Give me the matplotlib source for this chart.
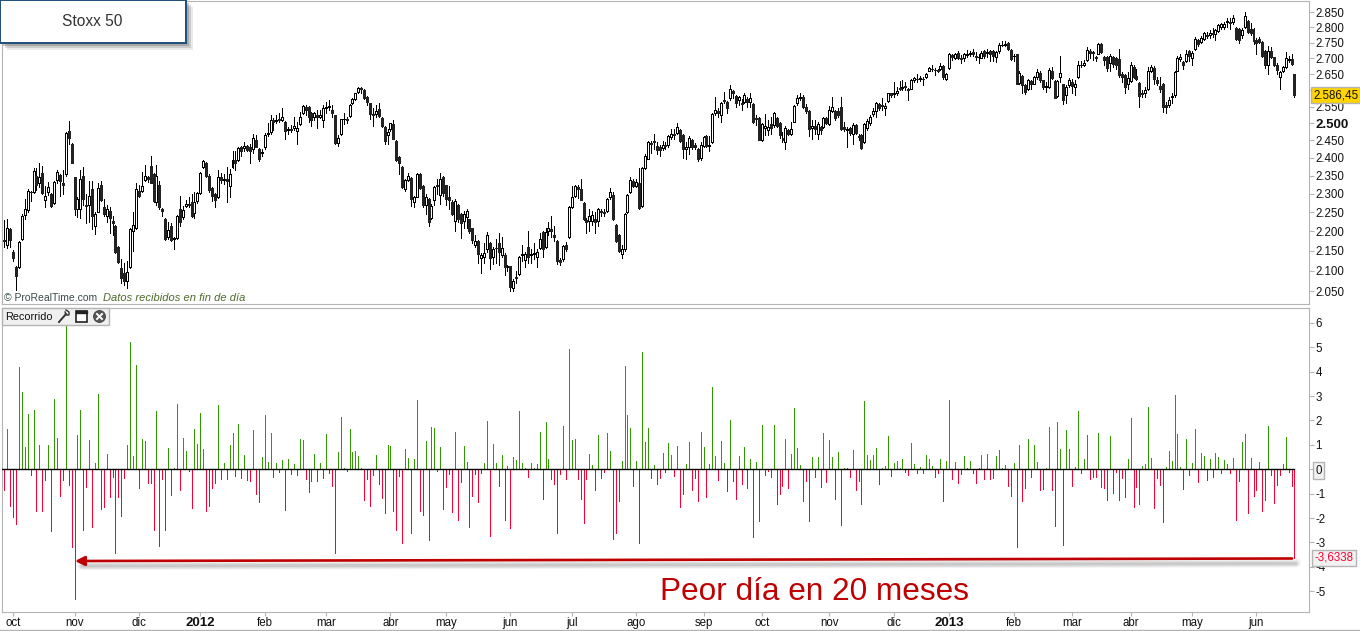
import matplotlib
matplotlib.use('Agg')
import numpy as np
import matplotlib.pyplot as plt
from matplotlib.patches import Rectangle, Circle

plt.rcParams['font.family'] = ['Liberation Sans', 'DejaVu Sans']

# Precios diarios
apertura = [
    2178,2165,2205,2147,2110,2110,2180,2243,2256,2305,2305,2350,2330,2357,2283,2305,2300,2275,2337,2352,
    2329,2355,2478,2440,2345,2258,2258,2350,2270,2270,2312,2215,2252,2325,2265,2240,2254,2226,2215,2160,
    2107,2095,2075,2110,2200,2208,2308,2308,2338,2345,2377,2355,2278,2325,2260,2232,2185,2215,2180,2183,
    2260,2237,2268,2272,2278,2248,2280,2303,2375,2385,2350,2315,2300,2290,2345,2338,2340,2322,2375,2395,
    2393,2430,2428,2435,2430,2425,2450,2425,2415,2430,2470,2475,2510,2508,2512,2510,2505,2480,2482,2486,
    2478,2498,2530,2550,2550,2530,2520,2525,2520,2510,2545,2550,2540,2525,2442,2468,2512,2512,2522,2560,
    2572,2593,2606,2600,2580,2560,2527,2527,2542,2517,2490,2467,2483,2498,2448,2402,2375,2313,2338,2343,
    2277,2292,2355,2322,2270,2285,2235,2282,2325,2298,2345,2323,2291,2278,2228,2270,2245,2228,2238,2232,
    2208,2165,2175,2133,2135,2155,2170,2135,2158,2170,2140,2140,2110,2112,2058,2085,2092,2140,2127,2160,
    2140,2142,2135,2158,2198,2160,2202,2205,2190,2175,2128,2130,2164,2185,2265,2295,2318,2312,2275,2230,
    2228,2228,2232,2228,2255,2252,2255,2290,2298,2218,2190,2142,2155,2250,2305,2335,2322,2330,2267,2370,
    2398,2442,2448,2435,2430,2428,2438,2437,2460,2468,2472,2480,2465,2425,2430,2450,2438,2425,2400,2435,
    2462,2433,2445,2530,2538,2525,2570,2565,2575,2597,2583,2570,2562,2565,2572,2565,2557,2515,2515,2450,
    2487,2480,2497,2494,2515,2500,2458,2445,2480,2468,2505,2560,2575,2580,2550,2538,2485,2492,2470,2488,
    2488,2516,2497,2538,2537,2538,2550,2490,2480,2485,2470,2495,2463,2465,2445,2487,2500,2527,2538,2557,
    2555,2545,2568,2590,2588,2590,2608,2606,2613,2603,2605,2630,2636,2635,2636,2640,2660,2667,2664,2663,
    2665,2675,2635,2668,2710,2700,2716,2700,2700,2710,2712,2720,2708,2703,2702,2722,2716,2722,2722,2705,
    2722,2743,2744,2750,2727,2706,2712,2622,2645,2615,2605,2628,2620,2640,2652,2630,2610,2610,2660,2628,
    2583,2640,2618,2585,2615,2625,2610,2640,2680,2680,2695,2722,2720,2705,2715,2745,2703,2703,2685,2705,
    2700,2698,2650,2647,2620,2628,2672,2645,2622,2590,2590,2602,2660,2670,2632,2612,2618,2554,2556,2580,
    2585,2660,2698,2688,2692,2722,2700,2730,2758,2752,2762,2775,2775,2782,2780,2787,2800,2802,2818,2818,
    2818,2798,2795,2775,2800,2820,2795,2795,2760,2762,2753,2722,2680,2722,2703,2680,2642,2660,2672,2695,2698,2650]
cierre = [
    2175,2210,2178,2133,2087,2172,2240,2258,2309,2304,2364,2325,2345,2303,2293,2318,2267,2332,2360,2335,
    2323,2472,2458,2385,2260,2285,2342,2285,2267,2295,2240,2246,2316,2283,2247,2260,2235,2222,2147,2122,
    2082,2075,2096,2205,2217,2312,2293,2322,2350,2340,2330,2280,2350,2265,2255,2180,2203,2178,2182,2240,
    2225,2257,2272,2270,2240,2278,2303,2358,2390,2350,2310,2295,2283,2345,2338,2342,2335,2355,2395,2385,
    2428,2420,2435,2423,2418,2458,2432,2397,2417,2465,2472,2510,2505,2510,2510,2518,2478,2483,2480,2492,
    2487,2518,2552,2540,2520,2510,2530,2520,2525,2545,2550,2552,2530,2442,2458,2512,2513,2510,2556,2572,
    2590,2606,2603,2577,2565,2527,2525,2538,2523,2493,2448,2473,2500,2455,2393,2386,2318,2337,2348,2285,
    2290,2355,2315,2270,2290,2225,2268,2318,2322,2342,2302,2285,2282,2245,2280,2232,2222,2247,2253,2200,
    2177,2175,2142,2140,2145,2190,2132,2155,2157,2147,2158,2110,2112,2060,2075,2082,2135,2142,2141,2135,
    2142,2144,2148,2180,2155,2198,2208,2202,2186,2125,2122,2162,2155,2265,2292,2320,2312,2284,2232,2224,
    2240,2244,2225,2258,2250,2249,2285,2305,2232,2175,2150,2155,2245,2298,2338,2320,2332,2262,2372,2405,
    2445,2440,2445,2423,2422,2438,2435,2462,2470,2466,2490,2449,2425,2430,2458,2432,2430,2398,2437,2460,
    2435,2438,2528,2540,2530,2560,2566,2545,2605,2590,2560,2578,2558,2585,2565,2577,2505,2512,2452,2497,
    2492,2490,2487,2530,2492,2465,2450,2485,2470,2482,2552,2575,2580,2548,2538,2482,2492,2484,2498,2480,
    2516,2500,2540,2550,2517,2524,2482,2482,2482,2472,2495,2472,2460,2428,2497,2508,2520,2538,2560,2545,
    2552,2553,2590,2586,2590,2598,2604,2610,2610,2600,2630,2637,2634,2637,2633,2650,2670,2665,2662,2661,
    2675,2640,2650,2715,2703,2712,2700,2698,2712,2712,2718,2712,2705,2704,2718,2708,2720,2714,2708,2720,
    2742,2744,2746,2728,2697,2708,2620,2652,2615,2595,2630,2620,2642,2655,2630,2610,2612,2662,2638,2577,
    2628,2652,2570,2610,2632,2612,2620,2680,2678,2686,2725,2718,2716,2702,2745,2720,2695,2668,2708,2682,
    2678,2648,2642,2610,2638,2680,2640,2635,2582,2587,2600,2660,2672,2635,2622,2603,2548,2549,2570,2582,
    2655,2702,2705,2680,2715,2708,2718,2762,2745,2765,2782,2772,2782,2778,2790,2808,2810,2812,2820,2814,
    2832,2762,2760,2793,2838,2785,2782,2755,2750,2752,2708,2680,2722,2705,2680,2662,2657,2672,2700,2698,2682,2586.45]
maximos = [
    2230,2233,2208,2153,2112,2175,2245,2285,2312,2308,2372,2370,2385,2377,2320,2332,2303,2335,2365,2355,
    2365,2475,2507,2441,2347,2292,2365,2373,2300,2335,2335,2250,2330,2335,2285,2270,2265,2240,2216,2162,
    2130,2120,2125,2208,2250,2330,2325,2360,2380,2350,2405,2358,2380,2335,2262,2235,2225,2222,2185,2242,
    2295,2268,2282,2292,2300,2305,2306,2360,2395,2388,2355,2318,2302,2365,2358,2355,2375,2368,2420,2420,
    2432,2435,2445,2438,2440,2470,2465,2428,2425,2472,2500,2525,2515,2525,2530,2545,2508,2490,2495,2520,
    2505,2535,2555,2556,2553,2535,2535,2540,2540,2555,2565,2570,2555,2526,2465,2514,2530,2518,2558,2575,
    2592,2610,2610,2602,2582,2562,2545,2555,2562,2520,2492,2483,2502,2510,2450,2405,2378,2340,2358,2345,
    2295,2358,2358,2325,2300,2288,2272,2322,2340,2358,2348,2325,2320,2282,2285,2272,2248,2255,2258,2233,
    2210,2190,2178,2145,2170,2198,2172,2160,2180,2195,2185,2145,2115,2113,2080,2100,2138,2165,2148,2200,
    2155,2170,2155,2195,2200,2210,2225,2240,2215,2178,2131,2165,2172,2268,2320,2325,2325,2340,2278,2235,
    2260,2255,2250,2262,2260,2260,2288,2315,2305,2220,2192,2165,2248,2300,2345,2340,2340,2370,2375,2412,
    2448,2448,2470,2445,2438,2448,2445,2465,2482,2482,2500,2482,2470,2445,2462,2455,2442,2428,2445,2464,
    2465,2462,2532,2580,2545,2565,2595,2568,2615,2600,2586,2582,2572,2590,2578,2590,2560,2525,2520,2500,
    2528,2510,2518,2535,2518,2505,2475,2492,2483,2505,2555,2585,2592,2585,2558,2540,2510,2510,2505,2492,
    2520,2520,2552,2578,2540,2545,2578,2505,2490,2488,2500,2498,2470,2468,2500,2512,2525,2545,2565,2562,
    2575,2560,2592,2592,2625,2610,2628,2630,2625,2607,2635,2642,2650,2645,2640,2653,2672,2680,2668,2667,
    2685,2680,2654,2718,2713,2718,2722,2710,2716,2725,2722,2730,2720,2712,2722,2726,2728,2726,2726,2724,
    2748,2755,2755,2752,2729,2712,2714,2660,2648,2618,2635,2632,2645,2665,2660,2632,2625,2668,2672,2630,
    2632,2708,2620,2615,2638,2635,2630,2690,2690,2695,2735,2730,2722,2708,2748,2748,2708,2706,2712,2708,
    2705,2730,2655,2650,2655,2688,2678,2665,2625,2600,2610,2672,2680,2675,2640,2640,2622,2565,2580,2590,
    2660,2706,2712,2692,2725,2725,2722,2770,2762,2772,2785,2785,2790,2798,2795,2812,2815,2818,2830,2833,
    2842,2800,2798,2797,2850,2825,2815,2798,2765,2768,2755,2725,2738,2735,2705,2685,2660,2675,2720,2708,2712,2651]
minimos = [
    2160,2158,2160,2125,2052,2108,2178,2232,2252,2280,2303,2310,2318,2300,2265,2296,2264,2272,2330,2295,
    2300,2350,2440,2384,2243,2238,2235,2270,2222,2225,2205,2192,2250,2280,2240,2225,2195,2190,2145,2120,
    2070,2065,2058,2108,2150,2205,2290,2305,2335,2332,2330,2278,2270,2260,2240,2178,2180,2175,2155,2180,
    2215,2232,2265,2265,2238,2235,2275,2300,2372,2345,2305,2280,2265,2288,2330,2328,2278,2292,2372,2365,
    2390,2405,2420,2420,2385,2415,2430,2392,2405,2425,2462,2468,2480,2500,2505,2508,2455,2470,2474,2480,
    2440,2495,2528,2525,2505,2492,2510,2485,2515,2490,2530,2540,2520,2440,2435,2466,2498,2500,2518,2558,
    2570,2590,2590,2572,2555,2513,2492,2518,2520,2490,2440,2440,2478,2453,2390,2355,2316,2308,2335,2267,
    2265,2290,2313,2265,2245,2215,2232,2270,2300,2272,2295,2270,2260,2243,2200,2225,2182,2210,2210,2195,
    2170,2160,2120,2095,2120,2148,2105,2118,2120,2115,2135,2090,2100,2050,2050,2070,2090,2125,2110,2120,
    2120,2130,2110,2155,2135,2158,2190,2185,2175,2118,2115,2125,2150,2183,2262,2292,2288,2282,2230,2195,
    2200,2218,2195,2215,2240,2240,2252,2285,2230,2172,2148,2132,2150,2248,2303,2318,2318,2260,2265,2368,
    2396,2415,2425,2412,2405,2422,2425,2432,2455,2455,2468,2445,2400,2397,2410,2425,2425,2392,2393,2432,
    2432,2418,2442,2525,2520,2505,2560,2530,2570,2575,2550,2555,2540,2560,2548,2550,2500,2495,2450,2447,
    2465,2465,2470,2490,2490,2458,2445,2425,2465,2465,2503,2555,2570,2545,2530,2462,2455,2470,2455,2470,
    2485,2498,2494,2535,2510,2520,2480,2478,2430,2465,2440,2468,2450,2425,2443,2480,2495,2522,2520,2540,
    2540,2525,2565,2580,2580,2585,2600,2600,2600,2570,2603,2625,2625,2628,2615,2638,2658,2660,2648,2655,
    2662,2635,2632,2666,2695,2696,2696,2685,2692,2703,2708,2708,2695,2685,2700,2702,2705,2690,2692,2688,
    2718,2738,2738,2726,2695,2690,2618,2618,2590,2588,2600,2605,2618,2635,2625,2605,2595,2608,2636,2575,
    2580,2625,2558,2560,2610,2590,2585,2638,2672,2675,2692,2700,2695,2690,2712,2718,2680,2660,2660,2672,
    2665,2640,2625,2590,2605,2625,2637,2630,2548,2578,2580,2600,2655,2620,2615,2595,2535,2530,2548,2560,
    2580,2658,2690,2665,2688,2690,2680,2725,2738,2748,2758,2765,2765,2770,2760,2784,2795,2796,2802,2795,
    2810,2758,2750,2765,2798,2782,2775,2745,2715,2748,2705,2670,2650,2700,2675,2650,2605,2655,2670,2688,2678,2578]

# Recorrido diario en %
recorrido = [
    -0.86,1.65,-1.5,-1.97,-2.26,4.2,3.17,0.9,2.26,-0.25,2.42,-1.73,1.0,-1.73,-0.45,1.0,-2.55,2.88,1.3,-1.1,
    -0.45,5.88,-0.65,-3.2,-5.3,1.4,2.42,-2.47,-0.74,1.2,-2.38,0.25,3.08,-1.64,-1.56,0.62,-1.15,-0.33,-3.45,-1.15,
    -1.93,-0.37,1.0,5.22,0.53,4.27,-0.78,1.23,1.15,-0.58,-0.58,-2.47,2.38,-3.16,-0.41,-2.5,0.86,-1.07,0.04,2.67,
    -0.86,1.27,0.74,-0.08,-1.6,1.64,1.03,2.3,0.82,-1.73,-1.52,-0.78,-0.58,2.63,-0.41,0.25,-0.41,1.0,1.48,-0.29,
    1.85,-0.37,0.58,-0.45,-0.49,1.6,-1.03,-1.36,0.49,2.22,0.29,1.48,-0.33,0.25,-0.12,0.37,-1.68,0.41,-0.2,0.2,
    -0.25,1.23,1.2,-0.41,-0.95,-0.49,0.62,-0.49,0.25,-0.37,1.44,-0.16,-0.7,-3.45,0.7,
    2.15,0.05,-0.07,1.66,0.71,0.75,0.55,0.05,-1.26,-0.4,-1.5,-0.23,0.59,-0.6,-1.18,-1.79,1.0,0.96,-1.71,-2.49,
    -0.27,-3.03,0.84,0.47,-2.62,0.42,2.85,-1.71,-1.88,1.16,-2.9,1.74,1.7,-0.07,0.92,-1.63,-0.73,-0.19,-1.75,1.53,
    -2.08,-0.52,0.96,0.3,-2.37,-1.1,-0.19,-1.34,-0.15,0.26,1.99,-2.74,1.04,0.26,-0.68,0.59,-2.08,0.14,-2.41,0.51,
    0.38,2.4,0.26,0.05,-0.32,0.26,0.05,0.22,1.53,-1.22,1.95,0.42,-0.4,-0.6,-2.62,-0.19,1.78,-0.4,4.95,1.2,
    1.25,-0.4,-1.22,-2.2,-0.4,0.63,0.18,-0.85,1.41,-0.36,-0.11,1.49,0.75,-2.86,-2.62,-1.3,0.34,4.25,2.23,1.7,
    -0.68,0.34,-3.03,4.82,1.12,1.7,-0.36,0.18,-0.6,-0.36,0.67,-0.11,1.08,0.59,-0.27,0.96,
    -1.55,-1.01,0.22,1.12,-0.85,-0.36,-1.3,1.53,0.92,-1.14,0.22,3.38,0.55,-0.44,1.16,0.26,-0.89,2.03,-0.48,-1.22,
    0.55,-0.6,0.92,-0.77,0.42,-2.78,0.3,-2.12,1.82,-0.23,-0.07,-0.32,1.82,-1.42,-1.01,-0.68,1.25,-0.77,0.63,2.52,
    0.88,0.18,-1.3,-0.48,-2.12,0.51,-0.32,0.51,-0.73,1.49,-0.52,1.21,0.51,-1.22,0.71,-2.29,0.05,0.05,-0.32,0.79,
    -0.85,-0.48,-1.42,2.81,0.59,0.38,0.59,0.88,-0.6,0.05,0.14,1.37,-0.27,0.26,0.34,0.05,0.42,-0.11,-0.23,1.08,
    0.22,-0.15,0.1,-0.15,0.59,0.42,0.14,-0.32,-0.15,0.42,-1.3,0.34,2.85,-0.4,0.3,-0.56,-0.19,0.55,0.05,0.34,
    -0.15,-0.56,0.05,0.59,-0.4,0.63,-0.4,-0.36,0.55,0.79,0.05,0.18,-0.68,-1.1,0.26,-3.19,1.0,
    -1.3,-0.77,1.25,-0.32,1.0,0.3,-0.85,-0.81,0.05,1.74,-0.85,-2.33,1.95,0.84,-3.11,1.62,0.84,-0.68,0.1,2.4,
    -0.15,0.42,1.41,-0.4,-0.32,-0.32,1.49,-0.73,-0.77,-1.26,1.37,-0.97,-0.11,-1.26,-0.36,-1.14,0.42,2.11,-1.55,-0.73,
    -1.42,0.14,0.22,2.56,0.47,-1.59,-0.36,-0.64,-2.16,0.1,0.75,0.34,3.05,1.45,0.1,-0.81,1.25,-0.23,0.26,1.66,
    -0.52,0.67,0.55,-0.44,0.42,-0.32,0.67,0.51,-0.15,0.38,0.22,-0.15,0.47,-2.08,-0.48,1.12,1.45,-1.79,0.47,-1.1,
    -0.85,0.3,-1.71,-1.26,1.78,-0.23,-1.38,-0.64,-0.23,0.22,1.33,-0.11,-0.68,-3.6338]

ticks_precio = [2050,2100,2150,2200,2250,2300,2350,2400,2450,2500,2550,2600,2650,2700,2750,2800,2850]
etiquetas_precio = ['2.050','2.100','2.150','2.200','2.250','2.300','2.350','2.400','2.450','2.500',
                    '2.550','','2.650','2.700','2.750','2.800','2.850']
ticks_rec = [-5,-4,-3,-2,-1,0,1,2,3,4,5,6]
etiquetas_rec = ['-5','-4','-3','-2','-1','0','1','2','3','4','5','6']
pos_meses = [3,24,46,67,89,110,132,151,173,194,216,239,259,282,304,323,345,365,385,406,428]
meses = ['oct','nov','dic','2012','feb','mar','abr','may','jun','jul','ago','sep','oct','nov','dic','2013',
         'feb','mar','abr','may','jun']

W, H = 1360, 631
GRIS = '#b4b4b4'
fig = plt.figure(figsize=(W/100, H/100), dpi=100)

def panel(izq, arr, der, aba):
    return fig.add_axes([izq/W, 1-aba/H, (der-izq)/W, (aba-arr)/H])

# Velas
ax1 = panel(2, 1, 1308.5, 304)
x = np.arange(len(cierre))
o = np.array(apertura, dtype=float)
c = np.array(cierre, dtype=float)
ax1.vlines(x, minimos, maximos, color='black', lw=0.68, zorder=1, antialiased=False)
sube = c >= o
ax1.bar(x[sube], c[sube]-o[sube], bottom=o[sube], width=0.68, facecolor='white', edgecolor='black',
        lw=0.68, zorder=2, antialiased=False)
ax1.bar(x[~sube], c[~sube]-o[~sube], bottom=o[~sube], width=0.68, facecolor='#222222', edgecolor='#222222',
        lw=0.68, zorder=2, antialiased=False)
ax1.set_yscale('log')
ax1.set_xlim(-0.79, 445.8)
ax1.set_ylim(2019, 2889)
ax1.set_xticks([])
ax1.yaxis.tick_right()
ax1.set_yticks(ticks_precio)
ax1.set_yticklabels(etiquetas_precio, fontsize=8.3)
ax1.yaxis.set_minor_locator(matplotlib.ticker.NullLocator())
ax1.tick_params(axis='y', length=3.4, color=GRIS, pad=1.5, labelcolor='#111111')
ax1.get_yticklabels()[9].set_fontweight('bold')
ax1.get_yticklabels()[9].set_fontsize(9.5)
for s in ax1.spines.values():
    s.set_color(GRIS)

# Recorrido
ax2 = panel(2, 308, 1308.5, 612)
xr = np.arange(len(recorrido))
r = np.array(recorrido)
ax2.vlines(xr[r >= 0], 0, r[r >= 0], color='#339900', lw=0.68, antialiased=False)
ax2.vlines(xr[r < 0], 0, r[r < 0], color='#ff0033', lw=0.68, antialiased=False)
ax2.plot([xr[0]-0.7, xr[-1]], [0, 0], color='black', lw=1.0, zorder=3)
ax2.set_xlim(-0.79, 445.8)
ax2.set_ylim(-5.85, 6.61)
ax2.yaxis.tick_right()
ax2.set_yticks(ticks_rec)
ax2.set_yticklabels(etiquetas_rec, fontsize=8.3)
ax2.set_xticks(pos_meses)
ax2.set_xticklabels(meses, fontsize=8.3)
ax2.tick_params(axis='both', length=3.4, color=GRIS, pad=1.5, labelcolor='#111111')
ax2.tick_params(axis='x', length=3, pad=0.5)
for lab in ax2.get_xticklabels():
    if lab.get_text() in ('2012', '2013'):
        lab.set_fontweight('bold')
        lab.set_fontsize(9.5)
ax2.get_yticklabels()[5].set_bbox(dict(boxstyle='square,pad=0.2', fc='#f2f2f2', ec=GRIS, lw=1))
for s in ax2.spines.values():
    s.set_color(GRIS)

# Capa en pixeles para las anotaciones
ov = fig.add_axes([0, 0, 1, 1], zorder=10)
ov.set_xlim(0, W)
ov.set_ylim(H, 0)
ov.axis('off')
ov.patch.set_alpha(0)

ov.plot([0, W], [630, 630], color=GRIS, lw=1)

# Caja del titulo
for d, a in [(7, 0.12), (5, 0.2), (3, 0.3)]:
    ov.add_patch(Rectangle((d, d), 186, 43, fc='#555555', ec='none', alpha=a))
ov.add_patch(Rectangle((0, 0), 186, 43, fc='white', ec='#1f4e79', lw=1.4))
ov.text(92, 21, 'Stoxx 50', ha='center', va='center', fontsize=11.2, color='#333333')

ov.text(4, 298, '© ProRealTime.com', ha='left', va='center', fontsize=7.5, color='#3a4a4a')
ov.text(103, 298, 'Datos recibidos en fin de día', ha='left', va='center', fontsize=8,
        style='italic', color='#4f6a2a')

# Barra "Recorrido"
ov.add_patch(Rectangle((2, 308), 107, 17, fc='#f0f0f0', ec=GRIS, lw=1))
ov.text(5, 316.5, 'Recorrido', ha='left', va='center', fontsize=7.8, color='#111111')
ov.plot([59, 66], [322, 314], color='#333333', lw=1.4)
ov.plot([65, 66, 69, 69, 66], [312, 315, 315, 312, 310], color='#333333', lw=1)
ov.add_patch(Rectangle((76, 311), 11, 11, fc='white', ec='#222222', lw=1.2))
ov.add_patch(Rectangle((76, 311), 11, 2, fc='#222222', ec='#222222', lw=1))
ov.add_patch(Circle((99.5, 316.5), 6, fc='#555555', ec='#333333', lw=0.5))
ov.plot([97, 102], [314, 319], color='white', lw=1.4)
ov.plot([97, 102], [319, 314], color='white', lw=1.4)

# Flecha con sombra
for d, lw, a in [(4, 7, 0.08), (5, 4, 0.12), (5, 2, 0.15)]:
    ov.plot([82, 1296], [561+d, 558.5+d], color='#555555', lw=lw, alpha=a, solid_capstyle='round')
ov.annotate('', xy=(75, 561), xytext=(1292, 558.5),
            arrowprops=dict(arrowstyle='-|>', color='#c00000', lw=1.9, mutation_scale=14, shrinkA=0, shrinkB=0))
ov.text(814, 592.5, 'Peor día en 20 meses', ha='center', va='center', fontsize=22.7, color='#c00000')

# Ultimos valores
ov.text(1335.5, 95, '2.586,45', ha='center', va='center', fontsize=8.3, color='#111111',
        bbox=dict(boxstyle='square,pad=0.18', fc='#ffd400', ec=GRIS, lw=1))
ov.text(1334, 558, '-3,6338', ha='center', va='center', fontsize=8.3, color='#ff0033',
        bbox=dict(boxstyle='square,pad=0.18', fc='#f2f2f2', ec=GRIS, lw=1))

fig.savefig('out.png', dpi=100)
plt.close()
